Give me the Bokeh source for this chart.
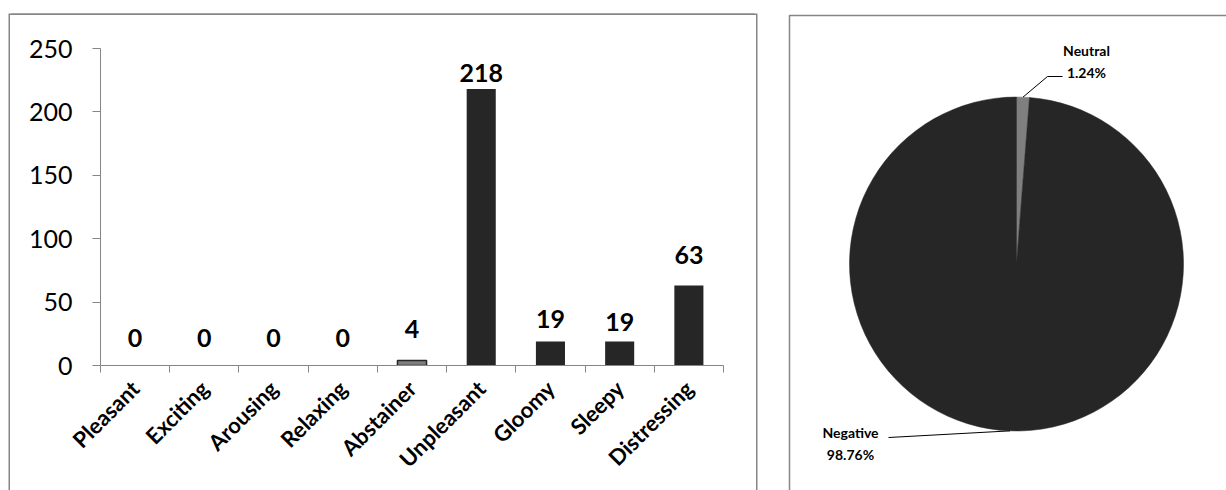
import math

from bokeh.core.properties import value
from bokeh.embed import file_html
from bokeh.layouts import row
from bokeh.models import ColumnDataSource, FixedTicker, LinearAxis, Range1d
from bokeh.plotting import figure
from bokeh.resources import INLINE

# ---- data -----------------------------------------------------------------
categories = ["Pleasant", "Exciting", "Arousing", "Relaxing", "Abstainer",
              "Unpleasant", "Gloomy", "Sleepy", "Distressing"]
counts = [0, 0, 0, 0, 4, 218, 19, 19, 63]
neutral_categories = ["Abstainer"]
y_ticks = [0, 50, 100, 150, 200, 250]

pie_labels = ["Neutral", "Negative"]

# ---- styling --------------------------------------------------------------
FONT = value("Lato")
DARK = "#262626"
MID = "#7f7f7f"
RULE = "#868686"
label_offsets = [19, 19, 19, 19, 22, 7, 13, 10, 22]   # gap between bar top and its label (px)

# ---- bar chart ------------------------------------------------------------
n = len(categories)
xs = [i + 0.5 for i in range(n)]
is_neutral = [c in neutral_categories for c in categories]
bars = ColumnDataSource(dict(
    x=xs, top=counts,
    fill=[MID if nt else DARK for nt in is_neutral],
    edge=[1.0 if nt else 0.0 for nt in is_neutral],
    lbl=[str(v) for v in counts], off=[-o for o in label_offsets],
))

# chart box: left, top and right edges only (it runs off the bottom of the page)
box_edges = "-1.5px -1.5px 0 0 #868686, 1.5px -1.5px 0 0 #868686"
left = figure(width=746, height=485, output_backend="svg", toolbar_location=None,
              x_range=Range1d(0, n), y_range=Range1d(0, 250),
              min_border_left=90, min_border_right=33, min_border_top=33,
              min_border_bottom=135, x_axis_type=None, y_axis_type=None,
              frame_align=False, margin=(15, 4, 0, 10),
              styles={"box-shadow": box_edges})
left.outline_line_color = None
left.background_fill_color = "white"
left.border_fill_color = "white"

yaxis = LinearAxis(ticker=FixedTicker(ticks=y_ticks))
yaxis.axis_line_color = RULE
yaxis.major_tick_line_color = RULE
yaxis.major_tick_out = 8
yaxis.major_tick_in = 0
yaxis.minor_tick_line_color = None
yaxis.major_label_text_font = "Lato"
yaxis.major_label_text_font_size = "25px"
yaxis.major_label_text_color = "black"
yaxis.major_label_standoff = 20
left.add_layout(yaxis, "left")

xaxis = LinearAxis(ticker=FixedTicker(ticks=xs, minor_ticks=list(range(n + 1))))
xaxis.axis_line_color = RULE
xaxis.major_tick_line_color = None
xaxis.minor_tick_line_color = RULE
xaxis.minor_tick_out = 7
xaxis.minor_tick_in = 0
xaxis.major_label_overrides = {x: c for x, c in zip(xs, categories)}
xaxis.major_label_orientation = math.pi / 4
xaxis.major_label_text_font = "Lato"
xaxis.major_label_text_font_style = "bold"
xaxis.major_label_text_font_size = "22px"
xaxis.major_label_text_color = "black"
xaxis.major_label_standoff = 12
left.add_layout(xaxis, "below")

left.ygrid.ticker = FixedTicker(ticks=y_ticks)
left.ygrid.grid_line_color = RULE
left.xgrid.grid_line_color = None

left.vbar(x="x", top="top", width=0.42, source=bars,
          fill_color="fill", line_color=DARK, line_alpha="edge", line_width=1.5)
left.text(x="x", y="top", text="lbl", y_offset="off", source=bars,
          text_font=FONT, text_font_style="bold", text_font_size="25px",
          text_color="black", text_align="center", text_baseline="bottom")

# ---- pie chart ------------------------------------------------------------
neutral_total = sum(v for v, nt in zip(counts, is_neutral) if nt)
negative_total = sum(v for v, nt in zip(counts, is_neutral) if not nt)
pie_values = [neutral_total, negative_total]
total = sum(pie_values)
fracs = [v / total for v in pie_values]

W, H = 466, 500
right = figure(width=W, height=H, output_backend="svg", toolbar_location=None,
               x_range=Range1d(0, W), y_range=Range1d(0, H),
               min_border=0, x_axis_type=None, y_axis_type=None,
               frame_align=False)
right.outline_line_color = None
right.grid.grid_line_color = None
right.background_fill_color = "white"
right.border_fill_color = "white"

cx, cy, r = 256, H - 263.5, 167
starts, ends, mids = [], [], []
acc = 0.0
for f in fracs:
    a0 = math.pi / 2 - 2 * math.pi * acc
    a1 = math.pi / 2 - 2 * math.pi * (acc + f)
    starts.append(a1)
    ends.append(a0)
    mids.append((a0 + a1) / 2)
    acc += f

pie = ColumnDataSource(dict(start=starts, end=ends, color=[MID, DARK]))
right.wedge(x=cx, y=cy, radius=r, start_angle="start", end_angle="end",
            fill_color="color", line_color="color", line_width=0.5, source=pie)

pct = ["{:.2f}%".format(100 * f) for f in fracs]
anchors = [(cx + r * math.cos(a), cy + r * math.sin(a)) for a in mids]

# Neutral: label above-right of the slice, leader with a short horizontal elbow
nx, ny = anchors[0]
right.line(x=[302, 287, nx], y=[H - 76, H - 76, ny], line_color="black", line_width=1)
right.text(x=[326, 326], y=[H - 50, H - 72], text=[pie_labels[0], pct[0]],
           text_font=FONT, text_font_style="bold", text_font_size="14px",
           text_color="black", text_align="center", text_baseline="middle")

# Negative: label below-left of the pie
gx, gy = anchors[1]
right.line(x=[128, gx], y=[H - 437, gy], line_color="black", line_width=1)
right.text(x=[90, 90], y=[H - 432, H - 454], text=[pie_labels[1], pct[1]],
           text_font=FONT, text_font_style="bold", text_font_size="14px",
           text_color="black", text_align="center", text_baseline="middle")

# chart border (open to the right and bottom)
right.quad(left=[29], right=[W + 20], top=[H - 15], bottom=[-20],
           fill_color=None, line_color=RULE, line_width=1.5)

layout = row(left, right)
open("out.html", "w").write(file_html(layout, INLINE))
